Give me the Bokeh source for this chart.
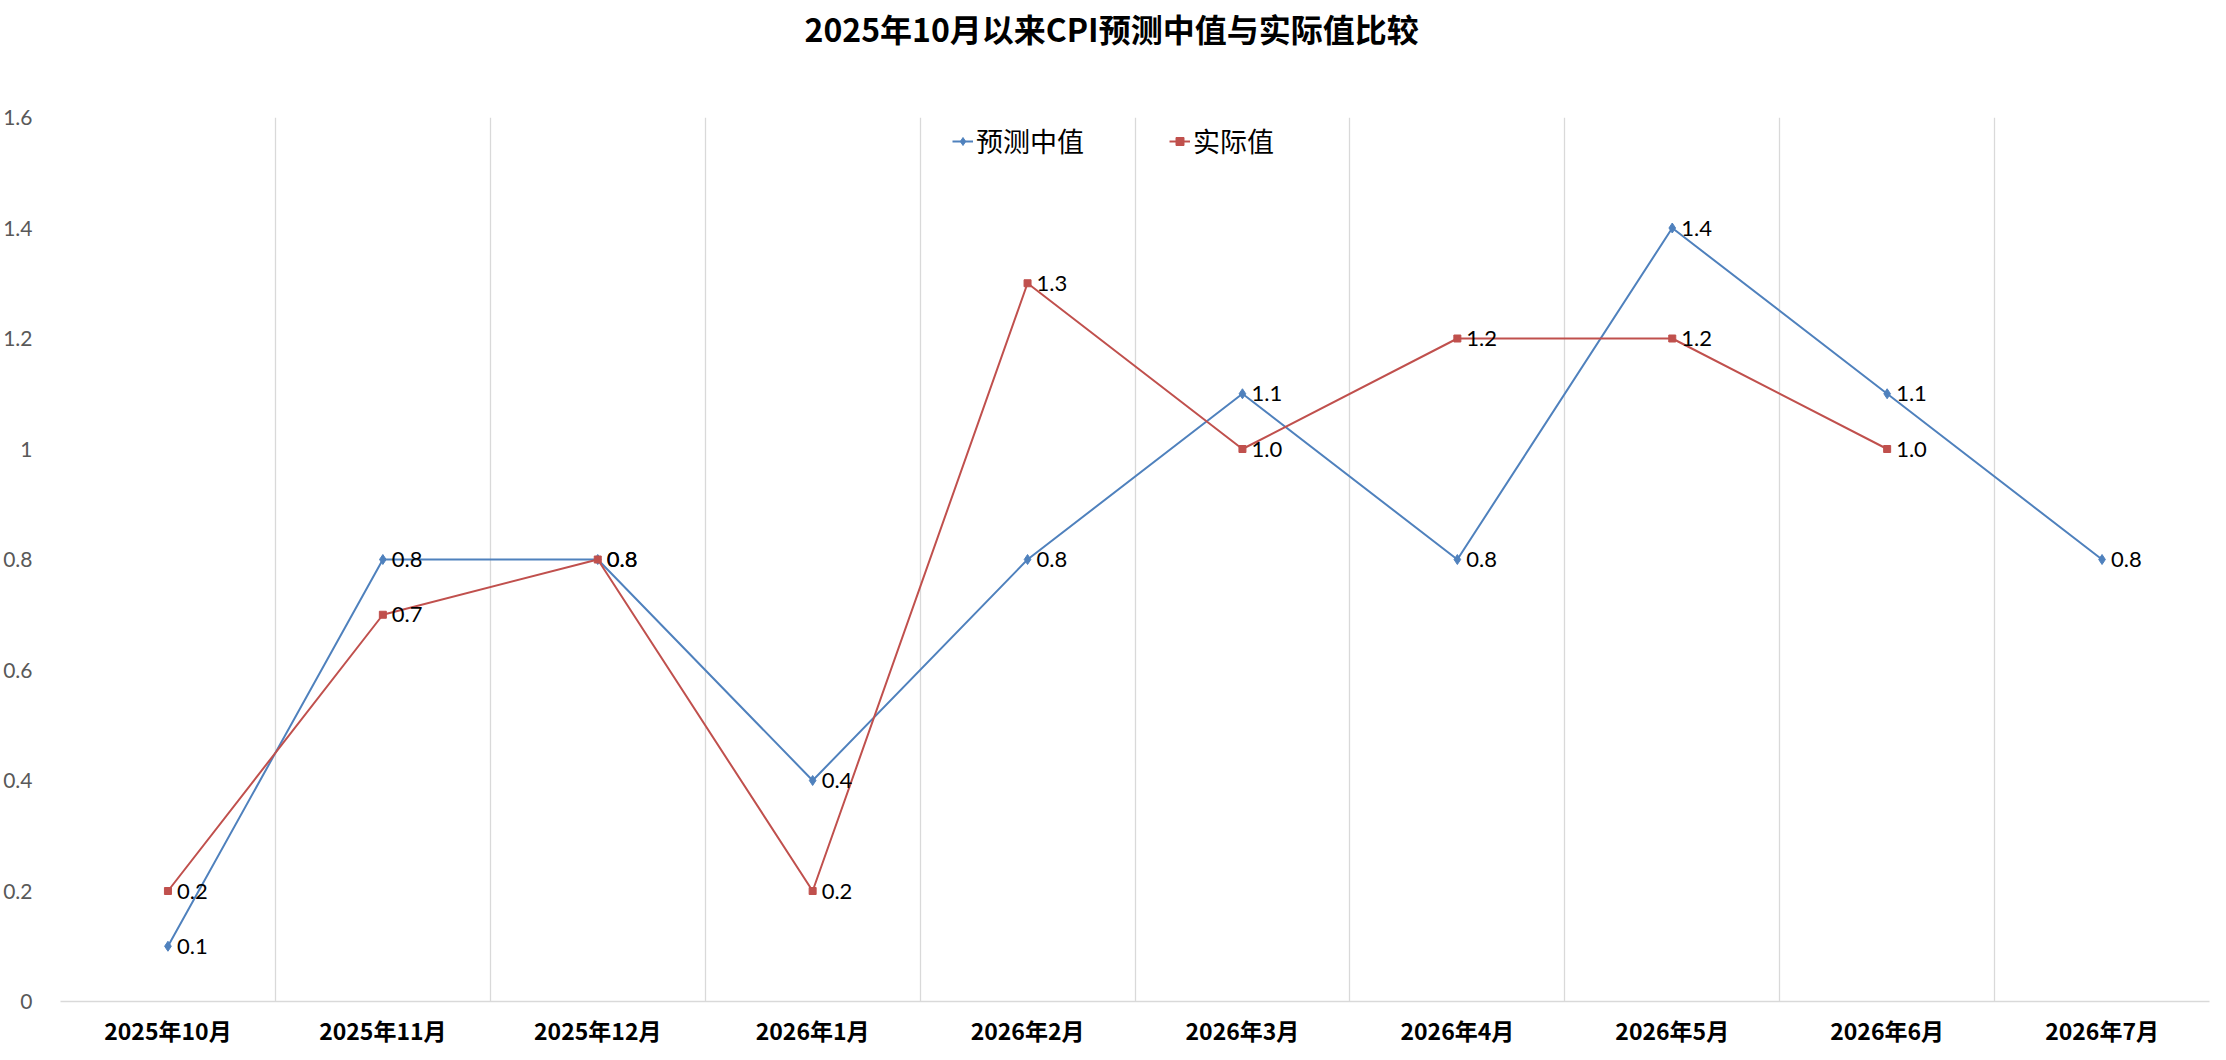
from bokeh.plotting import figure
from bokeh.models import (ColumnDataSource, FactorRange, Range1d, FixedTicker,
                          LabelSet, Legend, LegendItem, CustomJSTickFormatter, Title)
from bokeh.core.properties import value
from bokeh.embed import file_html
from bokeh.resources import INLINE

# ---- data ----
months = ["2025年10月", "2025年11月", "2025年12月", "2026年1月", "2026年2月",
          "2026年3月", "2026年4月", "2026年5月", "2026年6月", "2026年7月"]
forecast_median = [0.1, 0.8, 0.8, 0.4, 0.8, 1.1, 0.8, 1.4, 1.1, 0.8]
actual = [0.2, 0.7, 0.8, 0.2, 1.3, 1.0, 1.2, 1.2, 1.0, None]
y_ticks = [0, 0.2, 0.4, 0.6, 0.8, 1.0, 1.2, 1.4, 1.6]
title_text = "2025年10月以来CPI预测中值与实际值比较"
series_names = ["预测中值", "实际值"]

BLUE = "#4F81BD"
RED = "#C0504D"
CJK = "Noto Sans CJK SC"
NUM = "Lato"

p = figure(x_range=FactorRange(factors=months, range_padding=0),
           y_range=Range1d(0, 1.6),
           frame_width=2149, frame_height=884,
           min_border_left=53, min_border_top=117, min_border_right=6, min_border_bottom=30,
           output_backend="svg", toolbar_location=None,
           title=title_text)
p.outline_line_color = None
p.background_fill_color = "white"
p.border_fill_color = "white"

p.title.align = "left"
p.title.offset = 744
p.title.vertical_align = "bottom"
p.title.standoff = 0
p.title.text_font = CJK
p.title.text_font_style = "bold"
p.title.text_font_size = "32px"
p.title.text_color = "#000000"

# empty spacer between the title and the plot area
p.add_layout(Title(text=" ", text_font_size="1px", standoff=64), "above")

# grids: vertical lines at category boundaries
p.ygrid.grid_line_color = None
p.xgrid.ticker = FixedTicker(ticks=list(range(len(months) + 1)))
p.xgrid.grid_line_color = "#d9d9d9"
p.xgrid.grid_line_width = 1.3

# axes
p.yaxis.ticker = FixedTicker(ticks=y_ticks)
p.yaxis.formatter = CustomJSTickFormatter(code="return String(+tick.toFixed(1));")
p.yaxis.axis_line_color = None
p.yaxis.major_tick_line_color = None
p.yaxis.minor_tick_line_color = None
p.yaxis.major_label_standoff = 22
p.yaxis.major_label_text_font = NUM
p.yaxis.major_label_text_font_size = "21px"
p.yaxis.major_label_text_color = "#595959"

p.xaxis.axis_line_color = "#d9d9d9"
p.xaxis.axis_line_width = 1.5
p.xaxis.major_tick_line_color = None
p.xaxis.minor_tick_line_color = None
p.xaxis.major_label_standoff = 5
p.xaxis.major_label_text_font = CJK
p.xaxis.major_label_text_font_style = "bold"
p.xaxis.major_label_text_font_size = "23px"
p.xaxis.major_label_text_color = "#000000"

# sources
src_f = ColumnDataSource(dict(x=months, y=forecast_median,
                              t=[f"{v:.1f}" for v in forecast_median]))
a_x = [m for m, v in zip(months, actual) if v is not None]
a_y = [v for v in actual if v is not None]
src_a = ColumnDataSource(dict(x=a_x, y=a_y, t=[f"{v:.1f}" for v in a_y]))

lf = p.line("x", "y", source=src_f, line_color=BLUE, line_width=2)
mf = p.scatter("x", "y", source=src_f, marker="diamond", size=10,
               fill_color=BLUE, line_color=BLUE)
la = p.line("x", "y", source=src_a, line_color=RED, line_width=2)
ma = p.scatter("x", "y", source=src_a, marker="square", size=7,
               fill_color=RED, line_color=RED)

for src in (src_f, src_a):
    p.add_layout(LabelSet(x="x", y="y", text="t", source=src, x_offset=9, y_offset=0,
                          text_baseline="middle", text_align="left",
                          text_font=value(NUM), text_font_size="22px",
                          text_color="#000000"))

legend = Legend(items=[LegendItem(label=series_names[0], renderers=[lf, mf]),
                       LegendItem(label=series_names[1], renderers=[la, ma])],
                orientation="horizontal", location=(892, 841),
                glyph_width=21, glyph_height=20, label_standoff=3, spacing=85,
                padding=0, margin=0, border_line_alpha=0, background_fill_alpha=0,
                label_text_font=CJK, label_text_font_size="27px",
                label_text_color="#000000")
p.add_layout(legend)

open("out.html", "w").write(file_html(p, INLINE))
